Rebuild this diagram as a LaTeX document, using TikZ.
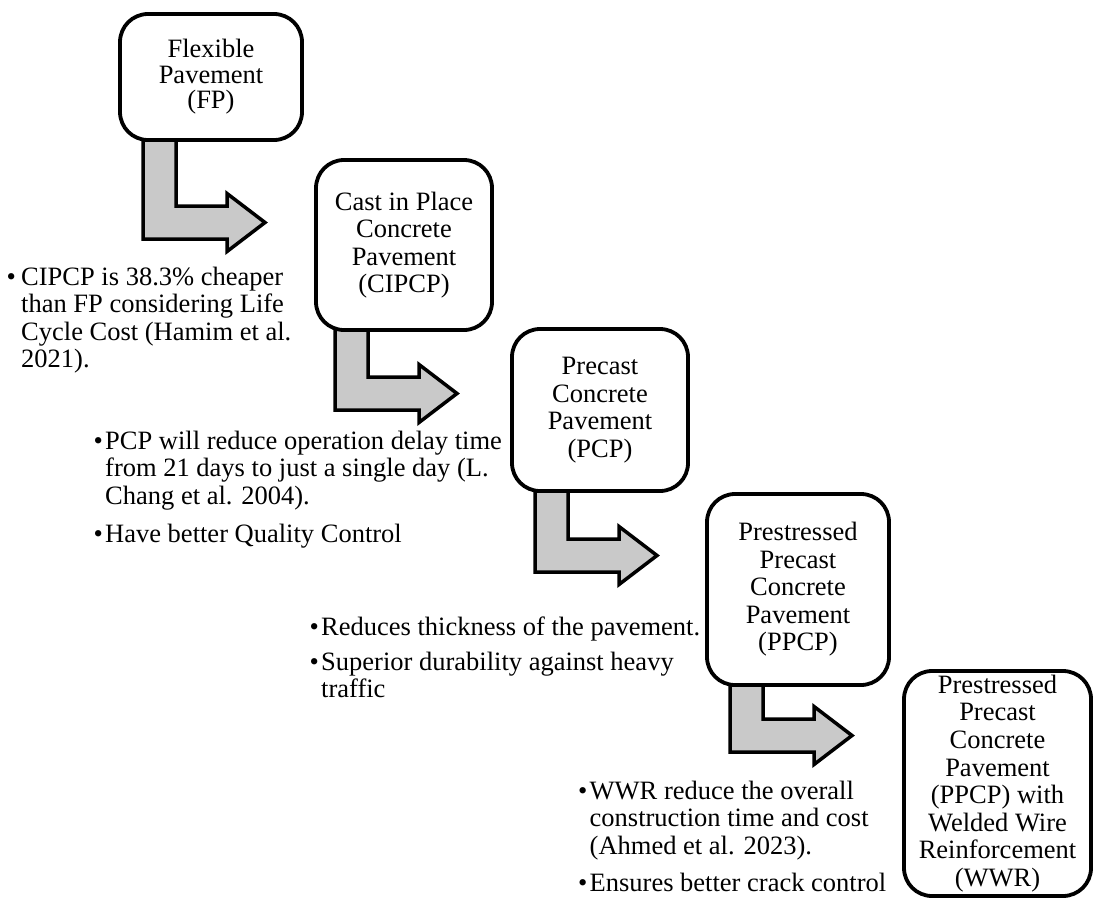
\documentclass[tikz,border=0pt]{standalone}
\usepackage{fontspec}
\setmainfont{Liberation Serif}
\usetikzlibrary{calc,backgrounds}
\definecolor{arrowgray}{HTML}{C9C9C9}

\begin{document}
\begin{tikzpicture}[x=1pt,y=-1pt,
  stage/.style={draw,line width=3.8pt,rounded corners=28pt,fill=white,align=center,
    inner sep=2pt,outer sep=0pt,font=\fontsize{26.5}{27.5}\selectfont},
  note/.style={align=left,anchor=north west,inner sep=0pt,
    font=\fontsize{26.5}{27.5}\selectfont},
  bulletmark/.style={note,anchor=north east},
  blockarrow/.style={draw,line width=3.5pt,fill=arrowgray,line join=miter}]
  \useasboundingbox (0,0) rectangle (1094,899);
  % the five pavement types
  \node[stage,minimum width=182pt,minimum height=126pt,font=\fontsize{26.5}{25.5}\selectfont] (fp) at (211,77) {Flexible\\Pavement\\(FP)};
  \node[stage,minimum width=176pt,minimum height=170pt] (cipcp) at (404,245) {Cast in Place\\Concrete\\Pavement\\(CIPCP)};
  \node[stage,minimum width=176pt,minimum height=162pt] (pcp) at (600,410) {Precast\\Concrete\\Pavement\\(PCP)};
  \node[stage,minimum width=182pt,minimum height=191pt] (ppcp) at (798,589.5) {Prestressed\\Precast\\Concrete\\Pavement\\(PPCP)};
  \node[stage,minimum width=187pt,minimum height=225pt,font=\fontsize{26.5}{27.6}\selectfont] (wwr) at (997.5,783.5) {Prestressed\\Precast\\Concrete\\Pavement\\(PPCP) with\\Welded Wire\\Reinforcement\\(WWR)};
  % notes under each step
  \node[note] (cipcpnote) at (21,265.75) {\strut CIPCP is 38.3\% cheaper\\than FP considering Life\\Cycle Cost (Hamim et al.\\2021).};
  \node[bulletmark] (cipcpdot) at ([xshift=-5pt]cipcpnote.north west) {\strut\textbullet};
  \node[note] (pcpnote) at (105,429.75) {\strut PCP will reduce operation delay time\\from 21 days to just a single day (L.\\Chang et al. 2004).};
  \node[bulletmark] (pcpdot) at ([xshift=-2pt]pcpnote.north west) {\strut\textbullet};
  \node[note] (qcnote) at (105,522.75) {\strut Have better Quality Control};
  \node[bulletmark] (qcdot) at ([xshift=-2pt]qcnote.north west) {\strut\textbullet};
  \node[note] (ppcpnote) at (321,615.75) {\strut Reduces thickness of the pavement.};
  \node[bulletmark] (ppcpdot) at ([xshift=-2pt]ppcpnote.north west) {\strut\textbullet};
  \node[note] (durnote) at (321,650.75) {\strut Superior durability against heavy\\traffic};
  \node[bulletmark] (durdot) at ([xshift=-2pt]durnote.north west) {\strut\textbullet};
  \node[note] (wwrnote) at (589.5,779.75) {\strut WWR reduce the overall\\construction time and cost\\(Ahmed et al. 2023).};
  \node[bulletmark] (wwrdot) at ([xshift=-2pt]wwrnote.north west) {\strut\textbullet};
  \node[note] (cracknote) at (589.5,871.75) {\strut Ensures better crack control};
  \node[bulletmark] (crackdot) at ([xshift=-2pt]cracknote.north west) {\strut\textbullet};
  % bent arrows, tucked behind the boxes
  \begin{pgfonlayer}{background}
    \foreach \n/\dx/\dy in {fp/23/66, cipcp/19/47, pcp/23/48, ppcp/23/34}
      \draw[blockarrow,shift={($(\n.south west)+(\dx,\dy)$)}]
        (0,-80) -- (0,33) -- (84,33) -- (84,45.5) -- (122,16.5)
        -- (84,-12.5) -- (84,0) -- (33,0) -- (33,-80) -- cycle;
  \end{pgfonlayer}
\end{tikzpicture}
\end{document}
